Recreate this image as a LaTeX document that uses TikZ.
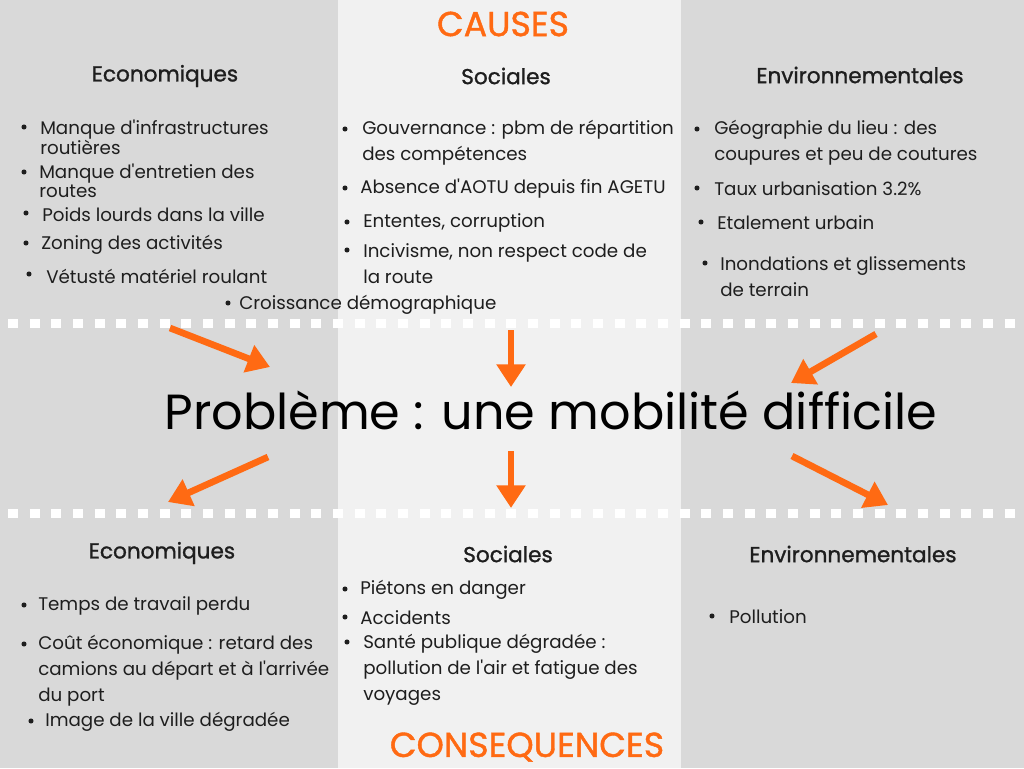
\documentclass[tikz,border=0pt]{standalone}
\usepackage{fontspec}
\setmainfont{Poppins}[Ligatures=TeXOff]
\newfontfamily\titrefont[FakeBold=1.2]{Poppins}
\usepackage{xcolor}
\usetikzlibrary{arrows.meta,positioning}

\definecolor{grisfonce}{HTML}{D9D9D9}
\definecolor{grisclair}{HTML}{F1F1F1}
\definecolor{orangevif}{HTML}{FF6A13}
\definecolor{encre}{HTML}{1E1E1E}

\begin{document}
\begin{tikzpicture}[x=0.75pt, y=-0.75pt, every node/.style={inner sep=0pt, text=encre}]
  \tikzstyle{pointilles} = [draw=white, line width=6.75pt, dash pattern=on 7.5pt off 8.75pt]
  \tikzstyle{rubrique} = [font=\titrefont\fontsize{16.2}{18}\selectfont]
  \tikzstyle{grandtitre} = [font=\titrefont\fontsize{26}{28}\selectfont, text=orangevif]
  \tikzstyle{probleme} = [font=\fontsize{37}{42}\selectfont, text=black]
  \tikzstyle{item} = [anchor=west, align=left, yshift=-1.5pt, font=\fontsize{13.7}{19.5}\selectfont]
  \tikzstyle{itemserre} = [anchor=west, align=left, yshift=-1.5pt, font=\fontsize{13.7}{12.75}\selectfont]
  \tikzstyle{puce} = [fill=encre]
  \tikzstyle{fleche} = [draw=orangevif, line width=5pt, -{Triangle[length=17pt,width=21pt]}]

  \useasboundingbox (0,0) rectangle (1024,768);

  % Fonds des trois colonnes
  \fill[grisfonce] (0,0) rectangle (338,768);
  \fill[grisclair] (338,0) rectangle (681,768);
  \fill[grisfonce] (681,0) rectangle (1024,768);

  % Separations
  \draw[pointilles] (8,323) -- (1024,323);
  \draw[pointilles] (8,513) -- (1024,513);

  % Titres
  \node[grandtitre] (causes) at (503,24) {CAUSES};
  \node[grandtitre] (consequences) at (527,747) {CONSEQUENCES};
  \node[probleme] (probleme) at (551,410) {Problème : une mobilité difficile};

  % Causes
  \node[rubrique] (ecoC) at (165,76) {Economiques};
  \node[rubrique] (socC) at (506,76) {Sociales};
  \node[rubrique] (envC) at (860,75) {Environnementales};

  \node[itemserre] (infra) at (40,135) {Manque d'infrastructures\\routières};
  \node[itemserre] (entretien) at (39,179) {Manque d'entretien des\\routes};
  \node[item] (poids) at (42,213) {Poids lourds dans la ville};
  \node[item] (zoning) at (41,243) {Zoning des activités};
  \node[item] (vetuste) at (46,274) {Vétusté matériel roulant};
  \node[item] (croissance) at (239,303) {Croissance démographique};

  \node[item] (gouvernance) at (362,141) {Gouvernance : pbm de répartition\\des compétences};
  \node[item] (aotu) at (360,187) {Absence d'AOTU depuis fin AGETU};
  \node[item] (ententes) at (363,221) {Ententes, corruption};
  \node[item] (incivisme) at (363,262) {Incivisme, non respect code de\\la route};

  \node[item] (geographie) at (714,141) {Géographie du lieu : des\\coupures et peu de coutures};
  \node[item] (taux) at (714,187) {Taux urbanisation 3.2\%};
  \node[item] (etalement) at (717,221) {Etalement urbain};
  \node[item] (inondations) at (720,275) {Inondations et glissements\\de terrain};

  % Consequences
  \node[rubrique] (ecoK) at (162,553) {Economiques};
  \node[rubrique] (socK) at (508,554) {Sociales};
  \node[rubrique] (envK) at (853,554) {Environnementales};

  \node[item] (temps) at (38,604) {Temps de travail perdu};
  \node[item] (cout) at (38,669) {Coût économique : retard des\\camions au départ et à l'arrivée\\du port};
  \node[item] (image) at (45,720) {Image de la ville dégradée};

  \node[item] (pietons) at (360,588) {Piétons en danger};
  \node[item] (accidents) at (360,616) {Accidents};
  \node[item] (sante) at (363,668) {Santé publique dégradée :\\pollution de l'air et fatigue des\\voyages};

  \node[item] (pollution) at (729,615) {Pollution};

  % Puces
  \foreach \px/\py in {24/127, 24/172, 26/213, 26/243, 29/274, 228/303,
                       345/129, 345/188, 347/222, 347/250,
                       697/129, 697/188, 701/222, 705/263,
                       24/605, 24/644, 31/721,
                       345/589, 345/617, 347/642, 712/616}
    \fill[puce] (\px,\py) circle (1.9pt);

  % Fleches
  \coordinate (hautG) at (170,328);
  \coordinate (hautGfin) at (270,367);
  \coordinate (hautM) at (511,330);
  \coordinate (hautMfin) at (511,387);
  \coordinate (hautD) at (876,334);
  \coordinate (hautDfin) at (791,383);
  \coordinate (basG) at (268,457);
  \coordinate (basGfin) at (168,502);
  \coordinate (basM) at (511,451);
  \coordinate (basMfin) at (511,508);
  \coordinate (basD) at (792,456);
  \coordinate (basDfin) at (888,505);

  \draw[fleche] (hautG) -- (hautGfin);
  \draw[fleche] (hautM) -- (hautMfin);
  \draw[fleche] (hautD) -- (hautDfin);
  \draw[fleche] (basG) -- (basGfin);
  \draw[fleche] (basM) -- (basMfin);
  \draw[fleche] (basD) -- (basDfin);
\end{tikzpicture}
\end{document}
